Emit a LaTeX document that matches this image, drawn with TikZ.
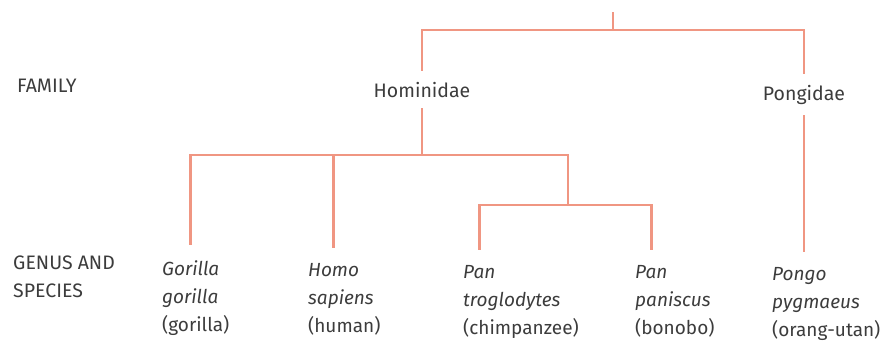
\documentclass[tikz,border=0pt]{standalone}
\usepackage{fontspec}
\setmainfont{Fira Sans}
\definecolor{linkc}{RGB}{240,150,130}
\definecolor{txtc}{RGB}{60,60,60}
\tikzset{
  link/.style={draw=linkc, line width=2.6pt},
  lbl/.style={inner sep=0pt, text=txtc, font=\fontsize{19.5}{28}\selectfont, anchor=base west},
  fam/.style={inner sep=0pt, outer ysep=11pt, text=txtc, font=\fontsize{19.5}{28}\selectfont, anchor=base},
  sp/.style={inner sep=0pt, outer ysep=15pt, text=txtc, font=\fontsize{19}{28}\selectfont\itshape, anchor=base west},
  spi/.style={inner sep=0pt, text=txtc, font=\fontsize{19}{28}\selectfont\itshape, anchor=base west},
  spl/.style={inner sep=0pt, text=txtc, font=\fontsize{19}{28}\selectfont, anchor=base west},
}
\begin{document}
\begin{tikzpicture}[x=1pt,y=-1pt]
\useasboundingbox (0,0) rectangle (890,343);
% row labels
\node[lbl] (family) at (17,92) {FAMILY};
\node[lbl] (genus) at (13,269) {GENUS AND};
\node[lbl] (species) at (13,297) {SPECIES};
% family nodes
\node[fam] (hom) at (422,97) {Hominidae};
\node[fam] (pong) at (804,100) {Pongidae};
% species
\node[sp] (gor1) at (162,275) {Gorilla};
\node[spi] (gor2) at (162,303) {gorilla};
\node[spl] (gor3) at (162,331) {(gorilla)};
\node[sp] (homo1) at (308,276) {Homo};
\node[spi] (homo2) at (308,304) {sapiens};
\node[spl] (homo3) at (308,332) {(human)};
\node[sp] (tro1) at (463,278) {Pan};
\node[spi] (tro2) at (463,306) {troglodytes};
\node[spl] (tro3) at (463,334) {(chimpanzee)};
\node[sp] (pan1) at (635,278) {Pan};
\node[spi] (pan2) at (635,306) {paniscus};
\node[spl] (pan3) at (635,334) {(bonobo)};
\node[sp] (pgo1) at (772,280) {Pongo};
\node[spi] (pgo2) at (772,308) {pygmaeus};
\node[spl] (pgo3) at (772,336) {(orang-utan)};
% connectors
\coordinate (root) at (613,12);
\coordinate (j1) at (613,30);
\coordinate (j2) at (422,155);
\coordinate (j3) at (568,205);
\draw[link] (root) -- (j1);
\draw[link] (j1) -| (hom.north);
\draw[link] (j1) -| (pong.north);
\draw[link] (hom.south) -- (j2);
\draw[link] (j2) -| (gor1.north);
\draw[link] (j2) -| (homo1.north);
\draw[link] (j2) -| (j3);
\draw[link] (j3) -| (tro1.north);
\draw[link] (j3) -| (pan1.north);
\draw[link] (pong.south) -- (pong.south |- pgo1.north);
\end{tikzpicture}
\end{document}
